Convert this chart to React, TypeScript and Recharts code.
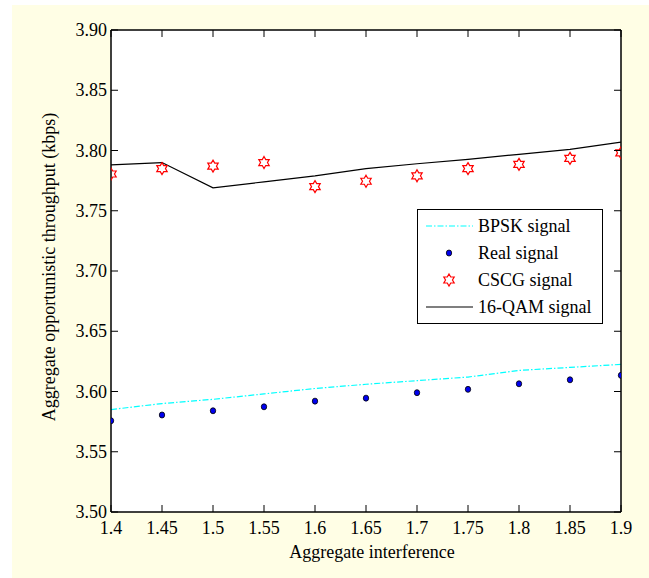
import { LineChart, Line, XAxis, YAxis, CartesianGrid, Legend, Label } from "recharts";

// values
const interference = [1.4, 1.45, 1.5, 1.55, 1.6, 1.65, 1.7, 1.75, 1.8, 1.85, 1.9];
const bpsk = [3.585, 3.59, 3.5935, 3.598, 3.6025, 3.606, 3.609, 3.612, 3.6175, 3.62, 3.6225];
const real = [3.5757, 3.5805, 3.584, 3.5873, 3.592, 3.5945, 3.599, 3.6018, 3.6064, 3.6097, 3.6134];
const cscg = [3.7805, 3.785, 3.787, 3.79, 3.770, 3.7745, 3.779, 3.785, 3.7885, 3.7935, 3.798];
const qam = [3.788, 3.79, 3.769, 3.774, 3.779, 3.785, 3.789, 3.7927, 3.7968, 3.801, 3.807];

const xTicks = [1.4, 1.45, 1.5, 1.55, 1.6, 1.65, 1.7, 1.75, 1.8, 1.85, 1.9];
const xTickLabels = ["1.4", "1.45", "1.5", "1.55", "1.6", "1.65", "1.7", "1.75", "1.8", "1.85", "1.9"];
const yTicks = [3.5, 3.55, 3.6, 3.65, 3.7, 3.75, 3.8, 3.85, 3.9];
const yTickLabels = ["3.50", "3.55", "3.60", "3.65", "3.70", "3.75", "3.80", "3.85", "3.90"];

const legendItems = ["BPSK signal", "Real signal", "CSCG signal", "16-QAM signal"];

const data = interference.map((x, i) => ({
  x,
  bpsk: bpsk[i],
  real: real[i],
  cscg: cscg[i],
  qam: qam[i],
}));

const CREAM = "#FFFEE5";
const txt = { fontFamily: "'Liberation Serif', 'Times New Roman', Times, serif", fontSize: 18 };

const hexPoints = (cx: number, cy: number, R: number) => {
  const r = R / Math.sqrt(3);
  const pts: string[] = [];
  for (let k = 0; k < 12; k++) {
    const ang = (-90 + k * 30) * (Math.PI / 180);
    const rad = k % 2 === 0 ? R : r;
    pts.push(`${cx + rad * Math.cos(ang)},${cy + rad * Math.sin(ang)}`);
  }
  return pts.join(" ");
};

const Hexagram = ({ cx, cy }: { cx: number; cy: number }) => (
  <polygon points={hexPoints(cx, cy, 6)} fill="none" stroke="#FF0000" strokeWidth={1.2} />
);

const BlueDot = ({ cx, cy }: { cx: number; cy: number }) => (
  <ellipse cx={cx} cy={cy} rx={2.7} ry={3} fill="#0000EE" stroke="#000" strokeWidth={0.8} />
);

// eslint-disable-next-line @typescript-eslint/no-explicit-any
const BottomTick = (props: any) => {
  const { x, y, index } = props;
  return (
    <g>
      <line x1={x} x2={x} y1={y} y2={y - 7} stroke="#000" strokeWidth={1} />
      <text x={x} y={y + 22} textAnchor="middle" style={txt} fill="#000">
        {xTickLabels[index]}
      </text>
    </g>
  );
};

// eslint-disable-next-line @typescript-eslint/no-explicit-any
const TopTick = (props: any) => (
  <line x1={props.x} x2={props.x} y1={props.y} y2={props.y + 7} stroke="#000" strokeWidth={1} />
);

// eslint-disable-next-line @typescript-eslint/no-explicit-any
const LeftTick = (props: any) => {
  const { x, y, index } = props;
  return (
    <g>
      <line x1={x} x2={x + 7} y1={y} y2={y} stroke="#000" strokeWidth={1} />
      <text x={x - 4} y={y + 6} textAnchor="end" style={txt} fill="#000">
        {yTickLabels[index]}
      </text>
    </g>
  );
};

// eslint-disable-next-line @typescript-eslint/no-explicit-any
const RightTick = (props: any) => (
  <line x1={props.x} x2={props.x - 7} y1={props.y} y2={props.y} stroke="#000" strokeWidth={1} />
);

const LegendBox = () => (
  <svg width={186} height={115} style={{ display: "block" }}>
    <rect x={0.5} y={0.5} width={185} height={114} fill="#fff" stroke="#000" strokeWidth={1} />
    {legendItems.map((name, i) => {
      const cy = 17 + i * 27;
      return (
        <g key={name}>
          {i === 0 && (
            <line x1={9} x2={56} y1={cy} y2={cy} stroke="#00FFFF" strokeWidth={1.2} strokeDasharray="6 2 1.5 2" />
          )}
          {i === 1 && <BlueDot cx={32} cy={cy} />}
          {i === 2 && <Hexagram cx={32} cy={cy} />}
          {i === 3 && <line x1={9} x2={56} y1={cy} y2={cy} stroke="#000" strokeWidth={1.2} />}
          <text x={61} y={cy + 6} style={txt} fill="#000">
            {name}
          </text>
        </g>
      );
    })}
  </svg>
);

export default function App() {
  return (
    <div style={{ position: "absolute", left: 0, top: 0, width: 649, height: 578, background: "#fff" }}>
      <div style={{ position: "absolute", left: 12, top: 5, width: 637, height: 573, background: CREAM }}>
        <LineChart width={637} height={573} data={data} margin={{ top: 24, right: 27, bottom: 0, left: 0 }}>
          <CartesianGrid horizontal={false} vertical={false} fill="#fff" xAxisId="b" yAxisId="l" />
          <XAxis
            xAxisId="b"
            dataKey="x"
            type="number"
            domain={[1.4, 1.9]}
            ticks={xTicks}
            interval={0}
            allowDataOverflow
            height={66}
            tickSize={0}
            tickMargin={0}
            tick={BottomTick}
            axisLine={{ stroke: "#000", strokeWidth: 1.5 }}
          >
            <Label
              content={(p: any) => {
                const vb = p.viewBox;
                return (
                  <text x={vb.x + vb.width / 2 + 6} y={vb.y + 46} textAnchor="middle" style={txt} fill="#000">
                    Aggregate interference
                  </text>
                );
              }}
            />
          </XAxis>
          <XAxis
            xAxisId="t"
            orientation="top"
            dataKey="x"
            type="number"
            domain={[1.4, 1.9]}
            ticks={xTicks}
            interval={0}
            allowDataOverflow
            height={1}
            tickSize={0}
            tickMargin={0}
            tick={TopTick}
            axisLine={{ stroke: "#000", strokeWidth: 1.5 }}
          />
          <YAxis
            yAxisId="l"
            type="number"
            domain={[3.5, 3.9]}
            ticks={yTicks}
            interval={0}
            allowDataOverflow
            width={99}
            tickSize={0}
            tickMargin={0}
            tick={LeftTick}
            axisLine={{ stroke: "#000", strokeWidth: 1.5 }}
          >
            <Label
              content={(p: any) => {
                const vb = p.viewBox;
                const cx = 43;
                const cy = vb.y + vb.height / 2 - 4;
                return (
                  <text
                    x={cx}
                    y={cy}
                    transform={`rotate(-90, ${cx}, ${cy})`}
                    textAnchor="middle"
                    style={txt}
                    fill="#000"
                  >
                    Aggregate opportunistic throughput (kbps)
                  </text>
                );
              }}
            />
          </YAxis>
          <YAxis
            yAxisId="r"
            orientation="right"
            type="number"
            domain={[3.5, 3.9]}
            ticks={yTicks}
            interval={0}
            allowDataOverflow
            width={1}
            tickSize={0}
            tickMargin={0}
            tick={RightTick}
            axisLine={{ stroke: "#000", strokeWidth: 1.5 }}
          />
          <Legend
            layout="horizontal"
            verticalAlign="middle"
            align="center"
            content={() => <LegendBox />}
            wrapperStyle={{ left: 405, top: 204, width: 186, height: 115 }}
          />
          <Line
            xAxisId="b"
            yAxisId="l"
            dataKey="bpsk"
            stroke="#00FFFF"
            strokeWidth={1.2}
            strokeDasharray="6 2 1.5 2"
            dot={false}
            isAnimationActive={false}
          />
          <Line
            xAxisId="b"
            yAxisId="l"
            dataKey="real"
            stroke="none"
            dot={(p: any) => <BlueDot key={`r${p.index}`} cx={p.cx} cy={p.cy} />}
            isAnimationActive={false}
          />
          <Line
            xAxisId="b"
            yAxisId="l"
            dataKey="qam"
            stroke="#000"
            strokeWidth={1.2}
            dot={false}
            isAnimationActive={false}
          />
          <Line
            xAxisId="b"
            yAxisId="l"
            dataKey="cscg"
            stroke="none"
            dot={(p: any) => <Hexagram key={`c${p.index}`} cx={p.cx} cy={p.cy} />}
            isAnimationActive={false}
          />
        </LineChart>
      </div>
    </div>
  );
}
